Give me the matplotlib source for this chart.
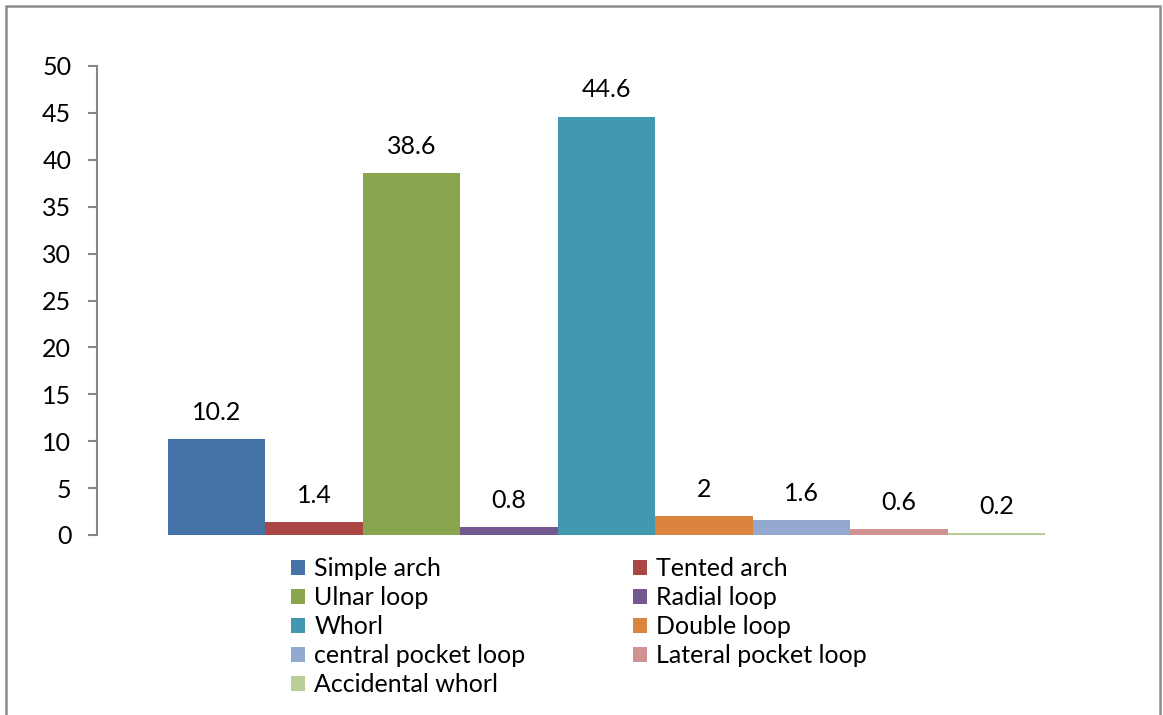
import matplotlib
matplotlib.use("Agg")
import matplotlib.pyplot as plt
from matplotlib.patches import Rectangle, Patch

categories = ["Simple arch", "Tented arch", "Ulnar loop", "Radial loop", "Whorl",
              "Double loop", "central pocket loop", "Lateral pocket loop", "Accidental whorl"]
values = [10.2, 1.4, 38.6, 0.8, 44.6, 2, 1.6, 0.6, 0.2]
value_labels = ["10.2", "1.4", "38.6", "0.8", "44.6", "2", "1.6", "0.6", "0.2"]
colors = ["#4572A7", "#AA4643", "#89A54E", "#71588F", "#4198AF",
          "#DB843D", "#93A9CF", "#D19392", "#B9CD96"]
yticks = [0, 5, 10, 15, 20, 25, 30, 35, 40, 45, 50]

plt.rcParams["font.family"] = ["Lato", "DejaVu Sans"]
FS = 18

fig = plt.figure(figsize=(11.63, 7.15), dpi=100)
ax = fig.add_axes([97 / 1163, 1 - 535 / 715, (1116 - 97) / 1163, (535 - 66) / 715])

xs = list(range(len(values)))
bars = ax.bar(xs, values, width=1.0, color=colors, linewidth=0)

for x, v, lab in zip(xs, values, value_labels):
    ax.annotate(lab, (x, v), xytext=(0, 11), textcoords="offset points",
                ha="center", va="bottom", fontsize=FS, color="black")

ax.set_xlim(-1.229, len(values) - 1 + 1.229)
ax.set_ylim(0, 50)
ax.set_yticks(yticks)
ax.set_xticks([])
for s in ["top", "right", "bottom"]:
    ax.spines[s].set_visible(False)
ax.spines["left"].set_color("#868686")
ax.spines["left"].set_linewidth(1.5)
ax.tick_params(axis="y", direction="out", length=6.5, width=1.5, color="#868686",
               pad=12, labelsize=FS, labelcolor="black")

# legend in two columns, filled row by row
handles = [Patch(facecolor=c, edgecolor="none") for c in colors]
col1 = [0, 2, 4, 6, 8]
col2 = [1, 3, 5, 7]
common = dict(frameon=False, fontsize=FS, handlelength=0.55, handleheight=0.55,
              handletextpad=0.38, labelspacing=0.24, borderaxespad=0, borderpad=0,
              loc="upper left")
leg1 = fig.legend([handles[i] for i in col1], [categories[i] for i in col1],
                  bbox_to_anchor=(291 / 1163, 1 - 557 / 715), **common)
leg2 = fig.legend([handles[i] for i in col2], [categories[i] for i in col2],
                  bbox_to_anchor=(633 / 1163, 1 - 557 / 715), **common)

# outer chart frame
fig.add_artist(Rectangle((6 / 1163, -0.01), (1160 - 6) / 1163, 1.01 - 6 / 715,
                         transform=fig.transFigure, fill=False,
                         edgecolor="#8C8C8C", linewidth=1.8))

fig.savefig("out.png", dpi=100)
